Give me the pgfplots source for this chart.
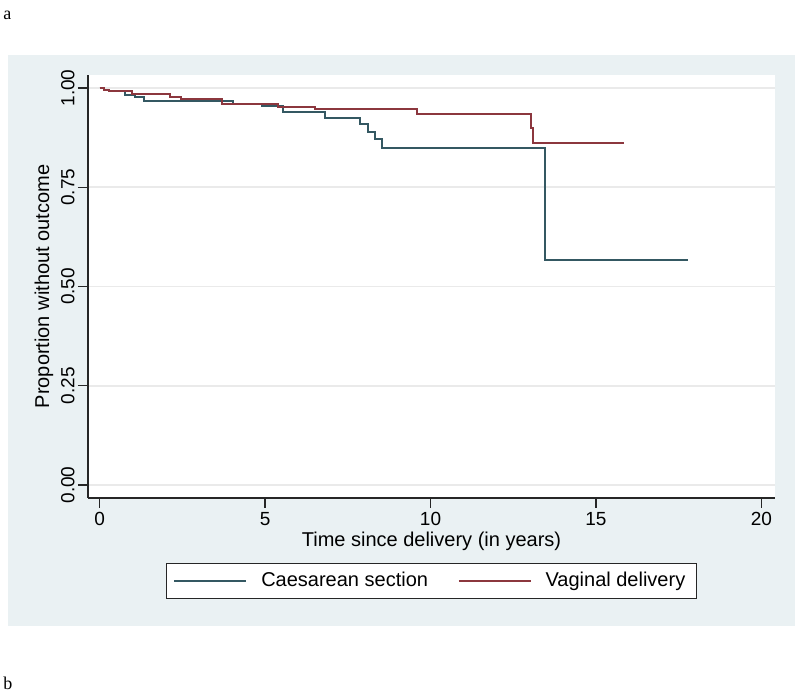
\documentclass[border=0pt]{standalone}
\usepackage{pgfplots}
\pgfplotsset{compat=1.18}
\usepackage{fontspec}
\setmainfont{Liberation Sans}
\newfontfamily\seriffont{Liberation Serif}
\definecolor{panel}{RGB}{234,241,243}
\definecolor{cs}{RGB}{52,88,98}
\definecolor{vd}{RGB}{140,55,62}
\definecolor{gridc}{RGB}{234,234,234}
\begin{document}
\begin{tikzpicture}
\fill[white] (0bp,0bp) rectangle (400bp,346bp);
\fill[panel] (4bp,33bp) rectangle (397.5bp,318.5bp);
\node[anchor=base west,font=\seriffont\fontsize{9bp}{10bp}\selectfont,inner sep=0] at (1.5bp,336bp) {a};
\node[anchor=base west,font=\seriffont\fontsize{9bp}{10bp}\selectfont,inner sep=0] at (1.5bp,1.5bp) {b};
\begin{axis}[
  at={(44bp,97bp)}, anchor=south west,
  scale only axis, width=343.5bp, height=211.5bp,
  xmin=-0.35, xmax=20.41, ymin=-0.0327, ymax=1.0327,
  axis x line*=bottom, axis y line*=left,
  axis line style={draw=black!85, line width=0.6bp},
  axis background/.style={fill=white},
  xtick={0,5,10,15,20}, xticklabels={0,5,10,15,20},
  ytick={0,0.25,0.5,0.75,1}, yticklabels={0.00,0.25,0.50,0.75,1.00},
  tick align=outside, major tick length=5bp,
  tick style={draw=black!85, line width=0.6bp},
  ymajorgrids, grid style={draw=gridc, line width=0.8bp},
  ticklabel style={font=\fontsize{9.5bp}{11bp}\selectfont},
  yticklabel style={rotate=90, anchor=south, inner sep=1.5bp},
  xticklabel style={inner sep=2bp},
  xlabel={Time since delivery (in years)},
  ylabel={Proportion without outcome},
  label style={font=\fontsize{10bp}{12bp}\selectfont},
  xlabel style={at={(axis description cs:0.5,0)}, anchor=base, yshift=-24.5bp},
  ylabel style={at={(axis description cs:-0.064,0.5)}, anchor=center},
  legend columns=2,
  legend style={at={(0.5,-0.196)}, anchor=center, draw=black!85, line width=0.5bp,
    fill=white, font=\fontsize{10bp}{12bp}\selectfont,
    inner xsep=3.5bp, inner ysep=2.5bp,
    /tikz/every odd column/.append style={column sep=5bp},
    /tikz/every even column/.append style={column sep=13bp}},
  legend image code/.code={\draw[#1, line width=0.8bp] (0bp,0bp) -- (36bp,0bp);},
]
\addplot[cs, line width=1bp, const plot] coordinates {
 (0,1.0) (0.14,0.995) (0.27,0.992) (0.77,0.982) (1.07,0.978) (1.34,0.968)
 (4.03,0.959) (4.9,0.955) (5.55,0.939) (6.81,0.925) (7.87,0.909) (8.12,0.890)
 (8.32,0.871) (8.54,0.849) (13.46,0.567) (17.78,0.567)};
\addlegendentry{Caesarean section}
\addplot[vd, line width=1bp, const plot] coordinates {
 (0,1.0) (0.14,0.995) (0.27,0.992) (0.97,0.985) (2.13,0.978) (2.45,0.972)
 (3.69,0.959) (5.39,0.953) (6.5,0.946) (9.59,0.934) (13.04,0.898) (13.09,0.862)
 (15.85,0.862)};
\addlegendentry{Vaginal delivery}
\end{axis}
\end{tikzpicture}
\end{document}
